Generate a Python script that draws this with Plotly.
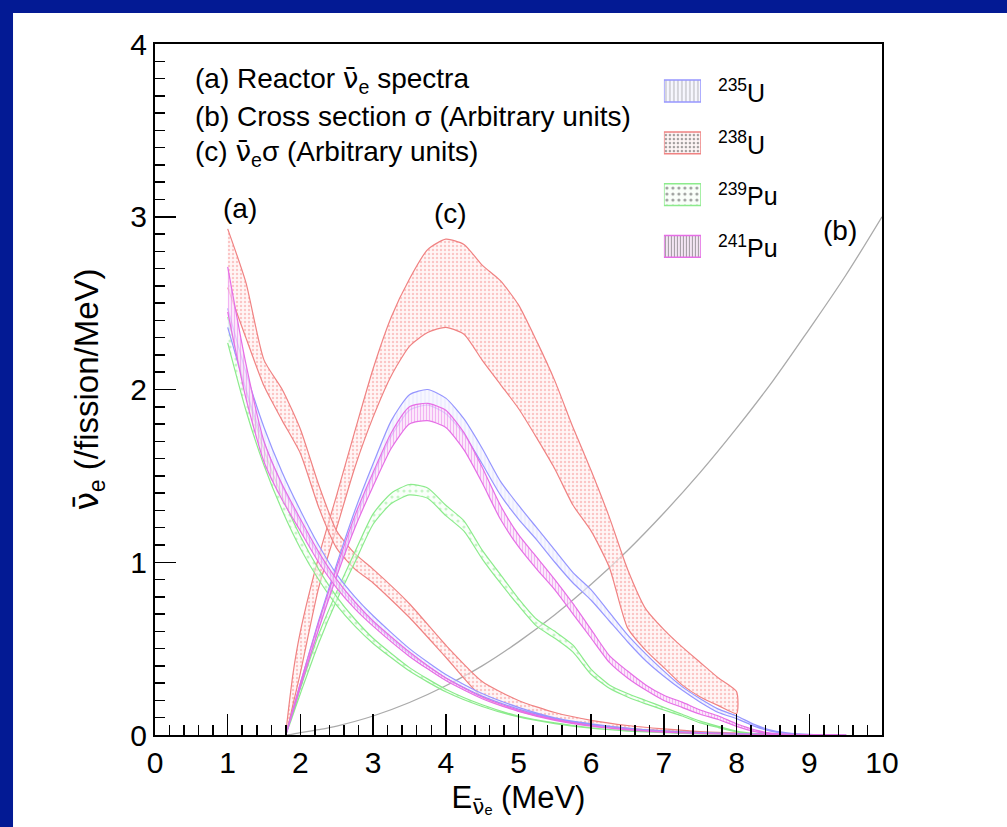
import plotly.graph_objects as go

# ---------------- data ----------------
# (a) reactor antineutrino spectra, lower / upper edge of each band
E_a = [1.0, 1.25, 1.5, 1.75, 2.0, 2.25, 2.5, 2.75, 3.0, 3.5, 4.0, 4.5, 5.0, 5.5,
       6.0, 6.5, 7.0, 7.5, 8.0, 8.5, 9.0, 9.5]
u235_a_hi = [2.47, 2.10, 1.78, 1.52, 1.30, 1.10, 0.93, 0.80, 0.69, 0.50, 0.35, 0.24, 0.16, 0.10,
             0.065, 0.040, 0.024, 0.014, 0.008, 0.004, 0.002, 0.001]
u235_a_lo = [2.36, 2.00, 1.69, 1.44, 1.23, 1.04, 0.88, 0.75, 0.65, 0.47, 0.33, 0.225, 0.15, 0.094,
             0.060, 0.037, 0.021, 0.012, 0.007, 0.0035, 0.0017, 0.0007]
u238_a_hi = [2.93, 2.62, 2.17, 2.00, 1.77, 1.45, 1.18, 1.05, 0.96, 0.76, 0.52, 0.31, 0.20, 0.13,
             0.085, 0.055, 0.035, 0.020, 0.012, 0.006, 0.003, 0.001]
u238_a_lo = [2.59, 2.30, 2.02, 1.82, 1.63, 1.32, 1.08, 0.96, 0.88, 0.68, 0.45, 0.22, 0.14, 0.09,
             0.060, 0.038, 0.024, 0.014, 0.008, 0.004, 0.002, 0.0005]
pu239_a_hi = [2.42, 2.00, 1.65, 1.38, 1.15, 0.96, 0.80, 0.67, 0.56, 0.39, 0.265, 0.175, 0.11, 0.07,
              0.042, 0.025, 0.014, 0.007, 0.0035, 0.0015, 0.0006, 0.0002]
pu239_a_lo = [2.27, 1.88, 1.56, 1.30, 1.08, 0.90, 0.75, 0.63, 0.53, 0.37, 0.25, 0.165, 0.104, 0.066,
              0.039, 0.023, 0.013, 0.0065, 0.003, 0.0013, 0.0005, 0.0001]
pu241_a_hi = [2.71, 2.15, 1.70, 1.45, 1.25, 1.06, 0.90, 0.77, 0.66, 0.48, 0.33, 0.22, 0.145, 0.09,
              0.055, 0.033, 0.019, 0.010, 0.005, 0.0025, 0.001, 0.0005]
pu241_a_lo = [2.45, 1.95, 1.58, 1.36, 1.18, 1.00, 0.85, 0.73, 0.63, 0.455, 0.315, 0.21, 0.137, 0.085,
              0.051, 0.030, 0.017, 0.009, 0.0045, 0.002, 0.0008, 0.0003]

# (b) inverse beta decay cross section (arbitrary units)
E_b = [1.8, 1.85, 2.0, 2.25, 2.5, 3.0, 3.5, 4.0, 4.5, 5.0, 5.5, 6.0, 6.5, 7.0, 7.5, 8.0,
       8.5, 9.0, 9.5, 10.0]
sigma_b = [0.0, 0.002, 0.014, 0.031, 0.052, 0.11, 0.188, 0.285, 0.40, 0.539, 0.696, 0.872,
           1.068, 1.285, 1.52, 1.776, 2.05, 2.35, 2.66, 3.0]

# (c) spectrum x cross section
E_c238 = [1.8, 1.9, 2.0, 2.25, 2.5, 2.75, 3.0, 3.25, 3.5, 3.75, 4.0, 4.25, 4.5, 4.75, 5.0,
          5.25, 5.5, 5.75, 6.0, 6.25, 6.5, 6.75, 7.0, 7.25, 7.5, 7.75, 8.0]
u238_c_hi = [0.0, 0.36, 0.60, 1.03, 1.39, 1.76, 2.12, 2.42, 2.64, 2.81, 2.87, 2.84, 2.72, 2.63, 2.49,
             2.28, 2.05, 1.78, 1.53, 1.26, 0.96, 0.73, 0.61, 0.51, 0.42, 0.33, 0.25]
u238_c_lo = [0.0, 0.18, 0.36, 0.85, 1.20, 1.55, 1.84, 2.08, 2.25, 2.33, 2.36, 2.32, 2.17, 2.03, 1.89,
             1.72, 1.54, 1.33, 1.18, 0.97, 0.62, 0.49, 0.39, 0.29, 0.22, 0.17, 0.125]

E_c = [1.8, 2.0, 2.25, 2.5, 2.75, 3.0, 3.25, 3.5, 3.75, 4.0, 4.25, 4.5, 4.75, 5.0, 5.25, 5.5,
       5.75, 6.0, 6.25, 6.5, 6.75, 7.0, 7.25, 7.5, 7.75, 8.0, 8.25, 8.5, 8.75, 9.0, 9.5]
u235_c_hi = [0.0, 0.30, 0.66, 0.99, 1.30, 1.57, 1.82, 1.97, 2.00, 1.95, 1.83, 1.66, 1.47, 1.33, 1.20,
             1.07, 0.94, 0.84, 0.71, 0.58, 0.47, 0.37, 0.28, 0.21, 0.15, 0.11, 0.06, 0.025, 0.01,
             0.004, 0.0]
u235_c_lo = [0.0, 0.28, 0.62, 0.94, 1.24, 1.50, 1.73, 1.88, 1.91, 1.86, 1.74, 1.57, 1.39, 1.25, 1.13,
             1.00, 0.88, 0.78, 0.66, 0.54, 0.43, 0.34, 0.26, 0.19, 0.13, 0.095, 0.05, 0.02, 0.008,
             0.003, 0.0]
pu239_c_hi = [0.0, 0.27, 0.58, 0.83, 1.06, 1.28, 1.40, 1.45, 1.43, 1.33, 1.24, 1.07, 0.93, 0.79, 0.67,
              0.60, 0.52, 0.38, 0.29, 0.24, 0.20, 0.16, 0.12, 0.08, 0.05, 0.022, 0.008, 0.003, 0.001,
              0.0, 0.0]
pu239_c_lo = [0.0, 0.24, 0.53, 0.78, 1.00, 1.22, 1.34, 1.39, 1.37, 1.27, 1.18, 1.02, 0.88, 0.75, 0.63,
              0.56, 0.48, 0.35, 0.27, 0.22, 0.18, 0.145, 0.11, 0.07, 0.043, 0.018, 0.006, 0.002,
              0.0005, 0.0, 0.0]
pu241_c_hi = [0.0, 0.30, 0.65, 0.97, 1.27, 1.52, 1.75, 1.90, 1.92, 1.88, 1.75, 1.55, 1.33, 1.16, 1.03,
              0.90, 0.76, 0.61, 0.46, 0.37, 0.29, 0.23, 0.19, 0.145, 0.11, 0.065, 0.03, 0.01, 0.004,
              0.001, 0.0]
pu241_c_lo = [0.0, 0.28, 0.61, 0.92, 1.20, 1.44, 1.66, 1.80, 1.82, 1.78, 1.65, 1.46, 1.25, 1.09, 0.96,
              0.84, 0.70, 0.56, 0.42, 0.33, 0.26, 0.20, 0.16, 0.12, 0.09, 0.05, 0.02, 0.007, 0.002,
              0.0005, 0.0]

isotopes = ["235", "238", "239", "241"]
isotope_labels = ["<sup>235</sup>U", "<sup>238</sup>U", "<sup>239</sup>Pu", "<sup>241</sup>Pu"]
legend_swatch = [1, 1, 1, 1]

# ---------------- styles ----------------
line_col = {"235": "rgb(150,150,255)", "238": "rgb(240,130,130)",
            "239": "rgb(140,235,140)", "241": "rgb(230,110,230)"}
fill_col = {"235": "rgba(242,242,255,0.6)", "238": "rgba(255,240,240,0.6)",
            "239": "rgba(245,255,245,0.5)", "241": "rgba(252,232,252,0.7)"}
pat = {"235": dict(shape="|", fgcolor="rgb(205,205,255)", size=4, solidity=0.2),
       "238": dict(shape=".", fgcolor="rgb(245,150,150)", size=4, solidity=0.3),
       "239": dict(shape=".", fgcolor="rgb(150,235,150)", size=6, solidity=0.22),
       "241": dict(shape="|", fgcolor="rgb(232,120,232)", size=3, solidity=0.4)}

fig = go.Figure()


def add_band(E, lo, hi, key):
    x = list(E) + list(E)[::-1]
    y = list(hi) + list(lo)[::-1]
    fig.add_trace(go.Scatter(
        x=x, y=y, mode="lines", fill="toself",
        line=dict(color=line_col[key], width=1.2, shape="spline", smoothing=0.6),
        fillcolor=fill_col[key],
        fillpattern=dict(fillmode="overlay", **pat[key]),
        showlegend=False, hoverinfo="skip"))


# cross section curve (b)
fig.add_trace(go.Scatter(x=E_b, y=sigma_b, mode="lines",
                         line=dict(color="rgb(170,170,170)", width=1.3, shape="spline"),
                         showlegend=False, hoverinfo="skip"))

add_band(E_c238, u238_c_lo, u238_c_hi, "238")
add_band(E_a, u238_a_lo, u238_a_hi, "238")
add_band(E_c, pu239_c_lo, pu239_c_hi, "239")
add_band(E_a, pu239_a_lo, pu239_a_hi, "239")
add_band(E_c, u235_c_lo, u235_c_hi, "235")
add_band(E_a, u235_a_lo, u235_a_hi, "235")
add_band(E_c, pu241_c_lo, pu241_c_hi, "241")
add_band(E_a, pu241_a_lo, pu241_a_hi, "241")

FONT = "Liberation Sans, Arial, Helvetica, sans-serif"

# legend drawn as a small inset of patterned swatches
fig.add_trace(go.Bar(
    x=legend_swatch, y=isotopes, orientation="h", width=0.42,
    xaxis="x2", yaxis="y2",
    marker=dict(color=[fill_col[k] for k in isotopes],
                line=dict(color=[line_col[k] for k in isotopes], width=1.5),
                pattern=dict(shape=[pat[k]["shape"] for k in isotopes],
                             fgcolor=[pat[k]["fgcolor"] for k in isotopes],
                             size=[pat[k]["size"] for k in isotopes],
                             solidity=[pat[k]["solidity"] for k in isotopes],
                             fillmode="overlay")),
    text=["\u00a0\u00a0" + t for t in isotope_labels], textposition="outside",
    textfont=dict(family=FONT, size=25, color="black"), constraintext="none",
    cliponaxis=False, showlegend=False, hoverinfo="skip"))

# nu-bar: nu with a combining macron, set in DejaVu Sans which places the mark well
nub = "<span style='font-family:DejaVu Sans'>\u03bd\u0304</span>"

ann_font = dict(family=FONT, size=28, color="black")
annotations = [
    dict(x=0.52, y=3.79, text="(a) Reactor " + nub + "<sub>e</sub> spectra", xanchor="left"),
    dict(x=0.52, y=3.58, text="(b) Cross section σ (Arbitrary units)", xanchor="left"),
    dict(x=0.52, y=3.37, text="(c) " + nub + "<sub>e</sub>σ (Arbitrary units)", xanchor="left"),
    dict(x=1.17, y=3.05, text="(a)", xanchor="center"),
    dict(x=4.06, y=3.02, text="(c)", xanchor="center"),
    dict(x=9.42, y=2.92, text="(b)", xanchor="center"),
]
for a in annotations:
    a.update(xref="x", yref="y", showarrow=False, font=ann_font, yanchor="middle")

BLUE = "#031a94"
fig.update_layout(
    width=1007, height=827,
    margin=dict(l=155, r=125, t=44, b=92),
    paper_bgcolor="white",
    plot_bgcolor="white",
    font=dict(family=FONT, color="black"),
    annotations=annotations,
    showlegend=False,
    shapes=[dict(type="rect", xref="paper", yref="paper", x0=-0.5, x1=-0.1953,
                 y0=-0.5, y1=1.5, fillcolor=BLUE, line=dict(width=0), layer="below"),
            dict(type="rect", xref="paper", yref="paper", x0=-0.5, x1=1.5,
                 y0=1.0449, y1=1.5, fillcolor=BLUE, line=dict(width=0), layer="below")],
    xaxis=dict(range=[0, 10], showgrid=False, zeroline=False,
               showline=True, linecolor="black", linewidth=2, mirror=True,
               ticks="inside", ticklen=21, tickwidth=1.5, tickcolor="black",
               tick0=0, dtick=1, tickfont=dict(family=FONT, size=30),
               minor=dict(ticks="inside", ticklen=10, tickwidth=1.5, tickcolor="black", dtick=0.2),
               title=dict(text="E<sub>" + nub + "ₑ</sub> (MeV)", font=dict(family=FONT, size=31),
                          standoff=8)),
    yaxis=dict(range=[0, 4], showgrid=False, zeroline=False,
               showline=True, linecolor="black", linewidth=2, mirror=True,
               ticks="inside", ticklen=21, tickwidth=1.5, tickcolor="black",
               tick0=0, dtick=1, tickfont=dict(family=FONT, size=30),
               minor=dict(ticks="inside", ticklen=10, tickwidth=1.5, tickcolor="black", dtick=0.1),
               title=dict(text=nub + "<sub>e</sub> (/fission/MeV)", font=dict(family=FONT, size=33),
                          standoff=22)),
    yaxis3=dict(overlaying="y", anchor="x", side="left", range=[0, 4], showgrid=False,
                zeroline=False, showline=False, ticks="inside", ticklen=21, tickwidth=1.5,
                tickcolor="black", tick0=0, dtick=0.5, showticklabels=False),
    xaxis2=dict(domain=[0.700, 0.751], range=[0, 1], visible=False, anchor="y2"),
    yaxis2=dict(domain=[0.6695, 0.9695], type="category", categoryorder="array",
                categoryarray=isotopes, autorange="reversed", visible=False, anchor="x2"),
)

fig.write_html(
    "out.html",
    config={"displayModeBar": False, "staticPlot": True},
    post_script=("document.documentElement.style.overflow='hidden';"
                 "document.body.style.margin='0';document.body.style.overflow='hidden';"
                 "document.body.style.background='white';"),
)
